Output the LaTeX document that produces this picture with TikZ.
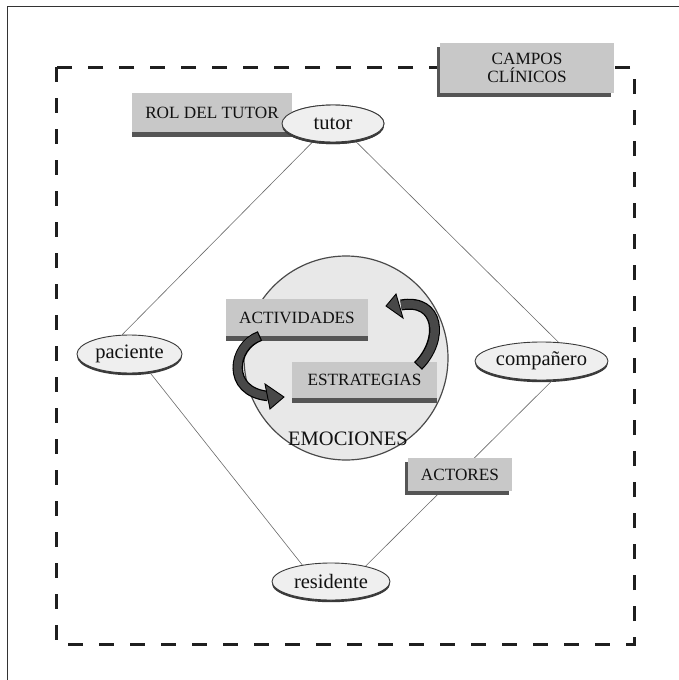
\documentclass[tikz,border=0pt]{standalone}
\usepackage{fontspec}
\setmainfont{Liberation Serif}
\usetikzlibrary{shapes.geometric,shadows}
\definecolor{boxgray}{HTML}{C8C8C8}
\definecolor{bardark}{HTML}{555555}
\definecolor{ellfill}{HTML}{EFEFEF}
\definecolor{ellline}{HTML}{3A3A3A}
\definecolor{circfill}{HTML}{E8E8E8}
\definecolor{circline}{HTML}{4A4A4A}
\definecolor{linkgray}{HTML}{6A6A6A}
\definecolor{arrowgray}{HTML}{484848}
\definecolor{txt}{HTML}{111111}
\tikzset{
  capsfont/.style={font=\fontsize{17.2}{18.5}\selectfont, text=txt},
  barbox/.style={capsfont, fill=boxgray, inner sep=0pt, anchor=center},
  shadbox/.style={capsfont, fill=boxgray, inner sep=0pt, align=center,
    drop shadow={shadow xshift=-3.5pt, shadow yshift=-4pt, fill=bardark, opacity=1}},
  actor/.style={ellipse, draw=ellline, line width=0.9pt, fill=ellfill, inner sep=0pt,
    font=\fontsize{20.5}{22}\selectfont, text=txt,
    drop shadow={shadow xshift=0pt, shadow yshift=-2.2pt, fill=ellline, opacity=1}},
  link/.style={draw=linkgray, line width=0.6pt},
}
\begin{document}
\begin{tikzpicture}[x=1pt,y=-1pt]
\useasboundingbox (0,0) rectangle (678,680);
% outer frame (top and left edges visible)
\draw[line width=1pt, black!80] (7,681) -- (7,6) -- (679,6);
% dashed field
\draw[line width=3pt, black!88, dash pattern=on 15pt off 16pt] (56,67) rectangle (634,644);

% actors
\node[actor, minimum width=102pt, minimum height=37pt] (tutor) at (333,123.5) {tutor};
\node[actor, minimum width=105pt, minimum height=38pt] (pac) at (129.5,354) {paciente};
\node[actor, minimum width=133pt, minimum height=38pt] (comp) at (541.5,361) {compañero};
\node[actor, minimum width=118pt, minimum height=37pt] (res) at (331,581.5) {residente};

% links
\path[link] (tutor.222) -- (pac.111);
\path[link] (tutor.322) -- (comp.48);
\path[link] (pac.318) -- (res.150);
\path[link] (comp.300) -- (res.24);

% central circle
\node[circle, draw=circline, line width=1.2pt, fill=circfill, minimum size=204pt, inner sep=0pt] (circ) at (346,358) {};
\node[font=\fontsize{20.5}{22}\selectfont, text=txt] (emo) at (348,439) {EMOCIONES};

% boxes with bottom bar
\node[barbox, minimum width=160pt, minimum height=39pt] (rol) at (212,112.5) {ROL DEL TUTOR};
\fill[bardark] (rol.south west) rectangle ([yshift=-5pt]rol.south east);
\node[barbox, minimum width=142pt, minimum height=37pt] (act) at (297,317.5) {ACTIVIDADES};
\fill[bardark] (act.south west) rectangle ([yshift=-4.5pt]act.south east);
\node[barbox, minimum width=145pt, minimum height=36pt] (est) at (364.5,380) {ESTRATEGIAS};
\fill[bardark] (est.south west) rectangle ([yshift=-4.5pt]est.south east);

% boxes with drop shadow
\node[shadbox, minimum width=174pt, minimum height=50pt] (campos) at (527,68) {CAMPOS\\CLÍNICOS};
\node[shadbox, minimum width=104pt, minimum height=33pt] (actores) at (460,474.5) {ACTORES};

% tutor ellipse lies over the ROL DEL TUTOR box
\node[actor, minimum width=102pt, minimum height=37pt] at (tutor) {tutor};

% curved arrows
\coordinate (a1s) at (260,336);
\coordinate (a1e) at (268,396);
\draw[line width=10.5pt, black] (a1s) .. controls (232,346) and (226,392) .. (a1e);
\draw[line width=8pt, arrowgray, shorten <=1.2pt] (a1s) .. controls (232,346) and (226,392) .. (a1e);
\filldraw[fill=arrowgray, draw=black, line width=0.9pt, line join=miter] (265,384) -- (284,397) -- (270,409) -- cycle;

\coordinate (a2s) at (418,366);
\coordinate (a2e) at (401,305);
\draw[line width=11pt, black] (a2s) .. controls (444,340) and (440,298) .. (a2e);
\draw[line width=8.5pt, arrowgray, shorten <=1.2pt] (a2s) .. controls (444,340) and (440,298) .. (a2e);
\filldraw[fill=arrowgray, draw=black, line width=0.9pt, line join=miter] (396,294) -- (386,306) -- (403,318) -- cycle;
\end{tikzpicture}
\end{document}
